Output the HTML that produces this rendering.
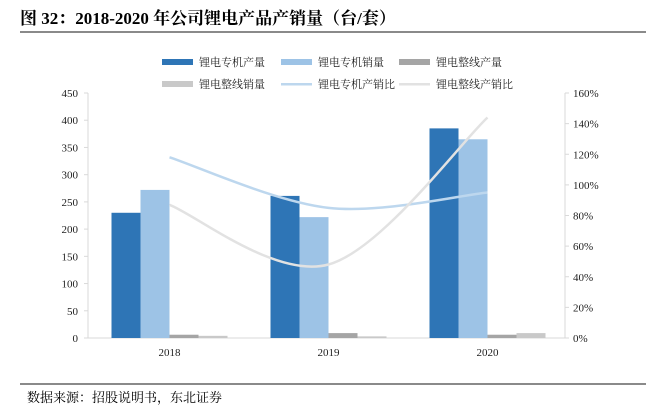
<!DOCTYPE html>
<html><head><meta charset="utf-8"><style>
body{margin:0;background:#fff;}
svg text{font-family:"Liberation Serif","Noto Serif CJK SC",serif;}
</style></head><body>
<svg id="c" width="646" height="410" viewBox="0 0 646 410" xmlns="http://www.w3.org/2000/svg">
<text x="20" y="24" font-size="17" font-weight="bold" fill="#000">图 32：2018-2020 年公司锂电产品产销量（台/套）</text>
<line x1="20" y1="32" x2="646" y2="32" stroke="#444" stroke-width="1.2"/>
<line x1="20" y1="384" x2="646" y2="384" stroke="#444" stroke-width="1.2"/>
<text x="27" y="402" font-size="13" fill="#000">数据来源：招股说明书，东北证券</text>
<g id="legend"></g>
<g id="axes"></g>
<g id="bars"></g>
<g id="lines"></g>
</svg>
<script>
const categories=["2018","2019","2020"];
const zjProd=[230,261,385];
const zjSales=[272,222,365];
const zxProd=[6,9,6];
const zxSales=[4,3,9];
const zjRatio=[118,85,95];
const zxRatio=[87,48,144];
const leftTicks=[0,50,100,150,200,250,300,350,400,450];
const rightTicks=[0,20,40,60,80,100,120,140,160];
const NS="http://www.w3.org/2000/svg";
const X0=88,X1=565,Y0=338,Y1=93;
const yL=v=>Y0-(v/450)*(Y0-Y1);
const yR=v=>Y0-(v/160)*(Y0-Y1);
const gw=(X1-X0)/3;
const xc=i=>X0+gw*(i+0.5)+2;
function mk(tag,attrs,parent){const e=document.createElementNS(NS,tag);for(const k in attrs)e.setAttribute(k,attrs[k]);document.getElementById(parent).appendChild(e);return e;}
let e;
e=mk("line",{x1:X0,y1:Y0,x2:X1,y2:Y0,stroke:"#d9d9d9"},"axes");


e=mk("line",{x1:X0,y1:Y0,x2:X0,y2:Y1,stroke:"#d9d9d9"},"axes");


e=mk("line",{x1:X1,y1:Y0,x2:X1,y2:Y1,stroke:"#d9d9d9"},"axes");


leftTicks.forEach(t=>{
 e=mk("text",{x:X0-10,y:yL(t)+4,"font-size":11,"text-anchor":"end",fill:"#222"},"axes");e.textContent=t;
 
 
 e=mk("line",{x1:X0-4,y1:yL(t),x2:X0,y2:yL(t),stroke:"#d9d9d9"},"axes");
 
 
});
rightTicks.forEach(t=>{
 e=mk("text",{x:X1+8,y:yR(t)+4,"font-size":11,fill:"#222"},"axes");e.textContent=t+"%";
 
 
 e=mk("line",{x1:X1,y1:yR(t),x2:X1+4,y2:yR(t),stroke:"#d9d9d9"},"axes");
 
 
});
categories.forEach((c,i)=>{
 e=mk("text",{x:xc(i),y:Y0+18,"font-size":11,"text-anchor":"middle",fill:"#222"},"axes");e.textContent=c;
 
 
});
const series=[[zjProd,"#2e75b6"],[zjSales,"#9dc3e6"],[zxProd,"#a5a5a5"],[zxSales,"#c9c9c9"]];
const bw=29;
series.forEach(([arr,col],s)=>{
 arr.forEach((v,i)=>{
  const x=xc(i)-2*bw+s*bw;
  e=mk("rect",{x:x,y:yL(v),width:bw,height:Y0-yL(v),fill:col},"bars");
  
  
 });
});
function smooth(arr){
 const p=arr.map((v,i)=>[xc(i),yR(v)]);
 let d="M"+p[0][0]+","+p[0][1];
 for(let i=0;i<p.length-1;i++){
  const p0=p[i-1]||p[i],p1=p[i],p2=p[i+1],p3=p[i+2]||p[i+1];
  const t=1/6;
  d+=" C"+(p1[0]+(p2[0]-p0[0])*t)+","+(p1[1]+(p2[1]-p0[1])*t)+" "+(p2[0]-(p3[0]-p1[0])*t)+","+(p2[1]-(p3[1]-p1[1])*t)+" "+p2[0]+","+p2[1];
 }
 return d;
}
e=mk("path",{d:smooth(zjRatio),fill:"none",stroke:"#bdd7ee","stroke-width":2.5},"lines");


e=mk("path",{d:smooth(zxRatio),fill:"none",stroke:"#e2e2e2","stroke-width":2.5},"lines");


const leg=[["锂电专机产量","#2e75b6",1,199,62],["锂电专机销量","#9dc3e6",1,318,62],["锂电整线产量","#a5a5a5",1,436,62],
["锂电整线销量","#c9c9c9",1,199,84],["锂电专机产销比","#bdd7ee",0,318,84],["锂电整线产销比","#e2e2e2",0,436,84]];
leg.forEach(([t,col,box,x,y])=>{
 e=mk("rect",{x:x-37,y:box?y-3:y-1,width:31,height:box?6:2.5,fill:col},"legend");
 
 
 e=mk("text",{x:x,y:y+4,"font-size":11,fill:"#222"},"legend");e.textContent=t;
 
 
});
</script>
</body></html>
